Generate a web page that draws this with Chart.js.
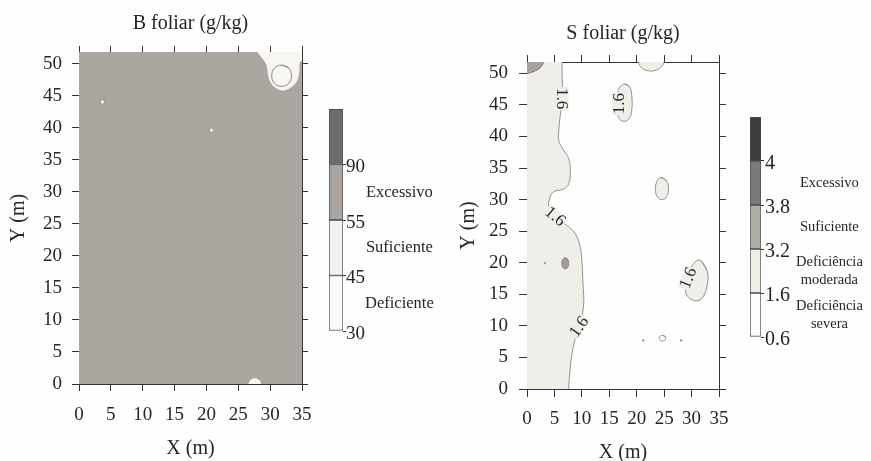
<!DOCTYPE html>
<html>
<head>
<meta charset="utf-8">
<script src="https://cdn.jsdelivr.net/npm/chart.js@4.4.1/dist/chart.umd.min.js"></script>
<style>
html,body{margin:0;padding:0;background:#fefefe;overflow:hidden;width:871px;height:461px;}
canvas{position:absolute;}
</style>
</head>
<body>
<canvas id="mapB" width="320" height="470" style="left:0;top:0"></canvas>
<canvas id="barB" width="125" height="250" style="left:320px;top:100px"></canvas>
<canvas id="mapS" width="290" height="470" style="left:455px;top:0"></canvas>
<canvas id="barS" width="131" height="260" style="left:740px;top:100px"></canvas>
<script>
// ---------------- data ----------------
const X_TICKS = [0, 5, 10, 15, 20, 25, 30, 35];
const Y_TICKS = [0, 5, 10, 15, 20, 25, 30, 35, 40, 45, 50];

const B_TITLE = 'B foliar (g/kg)';
const B_CLASS_BOUNDS = ['30', '45', '55', '90'];
const B_CLASS_NAMES = ['Deficiente', 'Suficiente', 'Excessivo'];

const S_TITLE = 'S foliar (g/kg)';
const S_CLASS_BOUNDS = ['0.6', '1.6', '3.2', '3.8', '4'];
const S_CLASS_NAMES = [['Deficiência', 'severa'], ['Deficiência', 'moderada'], 'Suficiente', 'Excessivo'];
const S_CONTOUR_LEVEL = '1.6';

// B foliar map: white (45-55) zone top-right, inner contour ring, bottom zone, small spots
const B_WHITE_ZONE = [[27.6,55],[28.0,51.9],[28.7,50.9],[29.2,50.2],[29.5,49.4],[29.7,48.1],[30.1,47.0],[30.8,46.25],[31.8,45.8],[32.8,46.0],[33.9,46.8],[34.4,47.8],[34.6,48.9],[34.8,50.3],[37,50.0],[37,55]];
const B_INNER_RING = [[31.8,49.75],[32.9,49.3],[33.35,48.1],[32.9,46.9],[31.8,46.45],[30.7,46.9],[30.25,48.1],[30.7,49.3]];
const B_BOTTOM_ZONE = [[26.4,-2],[26.5,0],[26.7,0.5],[27.1,0.85],[27.6,1.0],[28.1,0.85],[28.5,0.5],[28.7,0],[28.8,-2]];
const B_SPOTS = [[3.66,44.0],[20.8,39.6]];

// S foliar map: 1.6 contour (low zone to the left), blobs and spots
const S_LOW_ZONE = [[6.4,55],[6.4,51.8],[6.4,49.6],[6.5,46.0],[6.1,43.6],[5.8,40.9],[5.8,39.3],[6.7,37.8],[7.6,36.5],[7.9,34.6],[7.6,32.5],[6.7,31.7],[4.8,31.2],[4.1,30.1],[4.0,28.8],[5.3,27.2],[7.3,25.9],[8.8,24.6],[9.7,22.5],[10.0,20.4],[10.2,16.7],[10.3,13.0],[9.4,9.8],[8.8,8.0],[8.2,5.6],[7.8,2.5],[7.6,0],[7.6,-3],[-3,-3],[-3,55]];
const S_TOP_CORNER = [[3.1,55],[3.0,51.8],[2.4,50.9],[1.5,50.4],[0,50.0],[-3,49.8],[-3,55]];
const S_TOP_BLOB = [[20.2,55],[20.3,51.8],[20.9,50.9],[22.1,50.4],[23.7,50.55],[24.6,51.2],[25.0,51.8],[25.1,55]];
const S_BLOB_A = [[17.8,48.3],[18.7,47.9],[19.1,46.5],[19.1,44.2],[18.6,42.8],[17.6,42.4],[16.7,43.0],[16.4,45.0],[16.6,47.2],[17.1,48.0]];
const S_BLOB_B = [[24.5,33.5],[25.4,33.0],[25.8,31.8],[25.5,30.5],[24.7,30.0],[23.8,30.4],[23.4,31.6],[23.7,32.9]];
const S_BLOB_C = [[31.6,20.4],[32.8,18.8],[32.9,16.7],[31.85,14.3],[30.3,14.06],[29.0,15.1],[29.1,16.7],[29.7,18.8],[30.6,20.1]];
const S_DARK_SPOT = [[6.97,20.8],[7.45,20.5],[7.6,19.9],[7.45,19.3],[6.97,19.05],[6.5,19.3],[6.35,19.9],[6.5,20.5]];
const S_SMALL_RING = [[24.7,8.5],[25.2,8.3],[25.2,7.8],[24.7,7.6],[24.2,7.8],[24.2,8.3]];
const S_DOTS = [[3.3,19.95],[21.2,7.7],[28.1,7.7]];
// contour label anchors: [x, y, rotation in degrees]
const S_LABEL_ANCHORS = [[6.5,46.0,90],[5.2,27.4,40],[9.4,9.9,-55],[16.6,45.2,-90],[29.3,17.6,-68]];

// ---------------- style ----------------
const FONT = "'Liberation Serif', 'Times New Roman', serif";
const INK = '#262626';
const LINE = '#333333';
const GRAY_B = '#aba6a0';
const LIGHT = '#efeee9';
const WHITE_ZONE = '#f7f6f2';
const CONTOUR = '#8a8682';

const pts = a => a.map(([x, y]) => ({x, y}));
const loop = a => pts([...a, a[0], a[1]]);

function shape(points, fillColor, lineColor, lineWidth, tension) {
  return {
    data: points, showLine: true,
    fill: fillColor ? 'shape' : false,
    backgroundColor: fillColor || 'rgba(0,0,0,0)',
    borderColor: lineColor || 'rgba(0,0,0,0)',
    borderWidth: lineWidth || 0,
    pointRadius: 0, pointHoverRadius: 0,
    tension: tension === undefined ? 0.4 : tension,
    capBezierPoints: false
  };
}
function dots(points, fillColor, lineColor, r) {
  return {data: pts(points), showLine: false, pointRadius: r, pointBackgroundColor: fillColor,
          pointBorderColor: lineColor, pointBorderWidth: 0.8, pointHoverRadius: r};
}

const plotBg = {
  id: 'plotBg',
  beforeDatasetsDraw(chart, args, o) {
    if (!o || !o.color) return;
    const {ctx, chartArea: c} = chart;
    ctx.save(); ctx.fillStyle = o.color;
    ctx.fillRect(c.left, c.top, c.right - c.left, c.bottom - c.top);
    ctx.restore();
  }
};
const contourLabels = {
  id: 'contourLabels',
  afterDatasetsDraw(chart, args, o) {
    if (!o || !o.anchors) return;
    const {ctx} = chart; const xs = chart.scales.x, ys = chart.scales.y;
    ctx.save();
    ctx.font = '17px ' + FONT;
    ctx.textAlign = 'center'; ctx.textBaseline = 'middle';
    o.anchors.forEach(([x, y, rot]) => {
      ctx.save();
      ctx.translate(xs.getPixelForValue(x), ys.getPixelForValue(y));
      ctx.rotate(rot * Math.PI / 180);
      const w = ctx.measureText(o.text).width;
      ctx.fillStyle = o.bg; ctx.fillRect(-w / 2 - 1, -6, w + 2, 12);
      ctx.fillStyle = INK; ctx.fillText(o.text, 0, 1);
      ctx.restore();
    });
    ctx.restore();
  }
};

function linAxis(min, max, ticks, extra) {
  return Object.assign({
    type: 'linear', min, max,
    afterBuildTicks: s => { s.ticks = ticks.map(v => ({value: v})); },
    border: {display: true, color: LINE, width: 1}
  }, extra);
}

function mapChart(id, cfg) {
  const tickFont = {family: FONT, size: 19};
  const titleFont = {family: FONT, size: 20};
  return new Chart(document.getElementById(id), {
    type: 'scatter',
    data: {datasets: cfg.datasets},
    plugins: [plotBg, contourLabels],
    options: {
      responsive: false, animation: false, events: [],
      layout: {padding: 0},
      plugins: {
        legend: {display: false}, tooltip: {enabled: false},
        plotBg: {color: cfg.bg},
        contourLabels: cfg.labels || {}
      },
      scales: {
        x: linAxis(0, 35, X_TICKS, {
          position: 'bottom',
          ticks: {font: tickFont, color: INK, padding: cfg.xPad, maxRotation: 0, autoSkip: false},
          grid: {drawOnChartArea: false, tickLength: cfg.tick, color: LINE},
          title: {display: true, text: 'X (m)', font: titleFont, color: INK, padding: {top: 0, bottom: cfg.xTitlePad}},
          afterFit: s => { s.height = cfg.bottomH; s.paddingLeft = 0; s.paddingRight = 0; }
        }),
        x2: linAxis(0, 35, X_TICKS, {
          position: 'top',
          ticks: {display: false},
          grid: {drawOnChartArea: false, tickLength: cfg.tick - 1, color: LINE},
          title: {display: true, text: cfg.title, font: titleFont, color: INK, padding: {top: cfg.titlePad, bottom: 0}},
          afterFit: s => { s.height = cfg.topH; s.paddingLeft = 0; s.paddingRight = 0; }
        }),
        y: linAxis(0, 51.8, Y_TICKS, {
          position: 'left',
          ticks: {font: tickFont, color: INK, padding: cfg.yPad, autoSkip: false},
          grid: {drawOnChartArea: false, tickLength: cfg.tick, color: LINE},
          title: {display: true, text: 'Y (m)', font: titleFont, color: INK, padding: {top: cfg.yTitlePad, bottom: 0}},
          afterFit: s => { s.width = cfg.leftW; s.paddingTop = 0; s.paddingBottom = 0; }
        }),
        y2: linAxis(0, 51.8, Y_TICKS, {
          position: 'right',
          ticks: {display: false},
          grid: {drawOnChartArea: false, tickLength: cfg.tick - 1, color: LINE},
          afterFit: s => { s.width = cfg.rightW; s.paddingTop = 0; s.paddingBottom = 0; }
        })
      }
    }
  });
}

function colorBar(id, cfg) {
  const n = cfg.colors.length;
  return new Chart(document.getElementById(id), {
    type: 'bar',
    data: {labels: [''], datasets: cfg.colors.map(c => ({
      data: [1], backgroundColor: c, borderColor: '#4d4d4d', borderWidth: 1,
      borderSkipped: false, barPercentage: 1, categoryPercentage: 1
    }))},
    options: {
      responsive: false, animation: false, events: [],
      layout: {padding: {left: cfg.padL, top: cfg.padT, bottom: cfg.padB, right: 0}},
      plugins: {legend: {display: false}, tooltip: {enabled: false}},
      scales: {
        x: {display: false, stacked: true},
        y: {
          type: 'linear', stacked: true, position: 'right', min: 0, max: n,
          afterBuildTicks: s => { s.ticks = cfg.bounds.map((b, i) => ({value: i})); },
          ticks: {callback: (v, i) => cfg.bounds[i], font: {family: FONT, size: cfg.boundSize}, color: INK,
                  padding: cfg.boundPad, labelOffset: 3, autoSkip: false},
          grid: {drawOnChartArea: false, tickLength: 3, color: LINE},
          border: {display: false},
          afterFit: s => { s.width = cfg.wy; s.paddingTop = 0; s.paddingBottom = 0; }
        },
        y2: {
          type: 'linear', position: 'right', min: 0, max: n,
          afterBuildTicks: s => { s.ticks = cfg.names.map((t, i) => ({value: i + 0.5})); },
          ticks: {callback: (v, i) => cfg.names[i], font: {family: FONT, size: cfg.nameSize, lineHeight: 1.25},
                  color: INK, padding: cfg.namePad, crossAlign: 'center', autoSkip: false},
          grid: {display: false, drawTicks: false},
          border: {display: false},
          afterFit: s => { s.width = cfg.wy2; s.paddingTop = 0; s.paddingBottom = 0; }
        }
      }
    }
  });
}

// ---------------- charts ----------------
mapChart('mapB', {
  title: B_TITLE, bg: GRAY_B,
  leftW: 79, rightW: 18, topH: 52, bottomH: 86,
  tick: 7, xPad: 13, yPad: 10, titlePad: 12, xTitlePad: 9, yTitlePad: 7,
  datasets: [
    dots(B_SPOTS, '#f4f3ef', '#8a8682', 2.2),
    shape(loop(B_INNER_RING), null, CONTOUR, 1, 0.45),
    shape(pts(B_BOTTOM_ZONE), WHITE_ZONE, CONTOUR, 0.8),
    shape(pts(B_WHITE_ZONE), WHITE_ZONE, null, 0)
  ]
});

mapChart('mapS', {
  title: S_TITLE, bg: null,
  leftW: 72, rightW: 26, topH: 62, bottomH: 81,
  tick: 8, xPad: 11, yPad: 11, titlePad: 22, xTitlePad: 5, yTitlePad: 2,
  labels: {anchors: S_LABEL_ANCHORS, text: S_CONTOUR_LEVEL, bg: LIGHT},
  datasets: [
    dots(S_DOTS, '#9a9692', '#9a9692', 0.9),
    shape(loop(S_SMALL_RING), '#ffffff', CONTOUR, 0.9, 0.45),
    shape(loop(S_DARK_SPOT), '#a29d99', '#7e7a77', 0.8, 0.45),
    shape(pts(S_TOP_CORNER), '#a7a2a2', '#6f6b6b', 0.9),
    shape(pts(S_TOP_BLOB), LIGHT, CONTOUR, 0.9),
    shape(loop(S_BLOB_A), LIGHT, CONTOUR, 0.9),
    shape(loop(S_BLOB_B), LIGHT, CONTOUR, 0.9),
    shape(loop(S_BLOB_C), LIGHT, CONTOUR, 0.9),
    shape(pts(S_LOW_ZONE), LIGHT, CONTOUR, 0.9)
  ]
});

colorBar('barB', {
  colors: ['#fbfbf9', '#f3f2ee', '#aaa5a0', '#6e6a6b'],
  bounds: B_CLASS_BOUNDS, names: B_CLASS_NAMES,
  padL: 9, padT: 9, padB: 19, wy: 22, wy2: 80,
  boundSize: 19, boundPad: 0, nameSize: 16.5, namePad: 0
});

colorBar('barS', {
  colors: ['#fcfcfa', '#eeede8', '#b1ada8', '#7d7978', '#3e3a3f'],
  bounds: S_CLASS_BOUNDS, names: S_CLASS_NAMES,
  padL: 10, padT: 17, padB: 23, wy: 32, wy2: 78,
  boundSize: 20, boundPad: 1, nameSize: 14.5, namePad: 3
});
</script>
</body>
</html>
